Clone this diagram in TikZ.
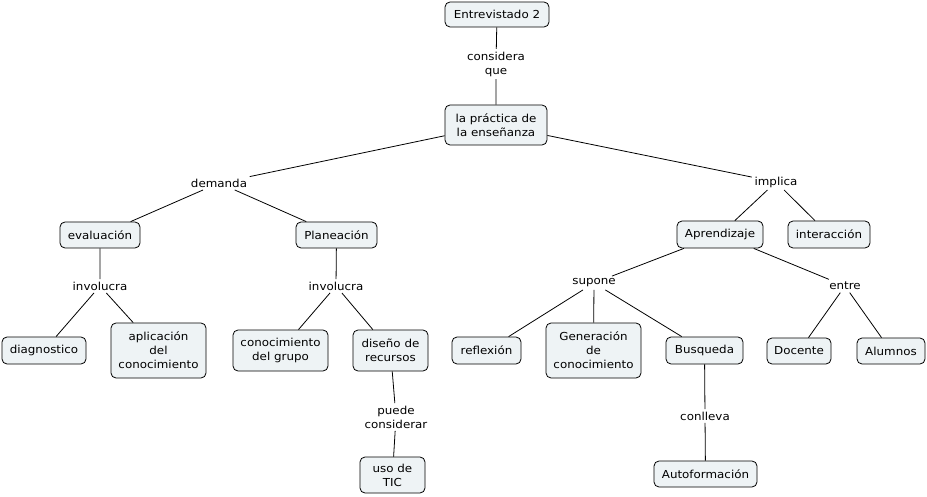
\documentclass[tikz,border=0pt]{standalone}
\usepackage{fontspec}
\setmainfont{DejaVu Sans}[FakeStretch=1.08]
\newcommand\myfs{\fontsize{11}{14}\selectfont}
\definecolor{boxfill}{RGB}{238,243,245}
\begin{document}
\begin{tikzpicture}[x=1pt,y=-1pt,
  box/.style={draw, line width=0.8pt, rounded corners=5pt, fill=boxfill, align=center,
    inner xsep=4pt, inner ysep=3pt, minimum height=26pt, font=\myfs},
  lab/.style={align=center, inner sep=2.5pt, font=\myfs},
  conn/.style={draw, line width=0.8pt}]
\useasboundingbox (0,0) rectangle (927,497);
\fill[white] (0,0) rectangle (927,497);
% concepts
\node[box, minimum width=104pt, minimum height=25pt] (e2) at (497,14.5) {Entrevistado 2};
\node[box, minimum width=102pt, minimum height=40pt] (lp) at (496,125) {la práctica de\\la enseñanza};
\node[box, minimum width=80pt] (eva) at (100,235) {evaluación};
\node[box, minimum width=81pt] (pla) at (336.5,235) {Planeación};
\node[box, minimum width=86pt, minimum height=27pt] (apr) at (720,234.5) {Aprendizaje};
\node[box, minimum width=82pt, minimum height=27pt] (int) at (829,234.5) {interacción};
\node[box, minimum width=84pt, minimum height=27pt] (diag) at (44,350.5) {diagnostico};
\node[box, minimum width=95pt, minimum height=55pt] (apl) at (158.5,350.5) {aplicación\\del\\conocimiento};
\node[box, minimum width=95pt, minimum height=41pt] (cdg) at (280.5,350.5) {conocimiento\\del grupo};
\node[box, minimum width=75pt, minimum height=41pt] (dis) at (390.5,350.5) {diseño de\\recursos};
\node[box, minimum width=69pt, minimum height=27pt] (ref) at (486.5,350.5) {reflexión};
\node[box, minimum width=95pt, minimum height=55pt] (gen) at (593.5,350.5) {Generación\\de\\conocimiento};
\node[box, minimum width=77pt, minimum height=27pt] (bus) at (704.5,350.5) {Busqueda};
\node[box, minimum width=64pt] (doc) at (799,351) {Docente};
\node[box, minimum width=68pt] (alu) at (891,351) {Alumnos};
\node[box, minimum width=65pt, minimum height=36pt] (tic) at (392.5,475) {uso de\\TIC};
\node[box, minimum width=103pt] (auto) at (705.5,474) {Autoformación};
% linking phrases
\node[lab] (cq) at (496,64) {considera\\que};
\node[lab] (dem) at (219,183) {demanda};
\node[lab] (imp) at (776,182) {implica};
\node[lab] (inv1) at (100,286) {involucra};
\node[lab] (inv2) at (336,286) {involucra};
\node[lab] (sup) at (594,283) {supone};
\node[lab] (ent) at (845,286) {entre};
\node[lab] (pc) at (396,417) {puede\\considerar};
\node[lab] (con) at (705,416) {conlleva};
% connectors
\path[conn] (e2) -- (cq) -- (lp);
\path[conn] (lp) -- (dem) -- (eva);
\path[conn] (dem) -- (pla);
\path[conn] (lp) -- (imp) -- (apr);
\path[conn] (imp) -- (int);
\path[conn] (eva) -- (inv1) -- (diag);
\path[conn] (inv1) -- (apl);
\path[conn] (pla) -- (inv2) -- (cdg);
\path[conn] (inv2) -- (dis);
\path[conn] (dis) -- (pc) -- (tic);
\path[conn] (apr) -- (sup) -- (ref);
\path[conn] (sup) -- (gen);
\path[conn] (sup) -- (bus);
\path[conn] (apr) -- (ent) -- (doc);
\path[conn] (ent) -- (alu);
\path[conn] (bus) -- (con) -- (auto);
\end{tikzpicture}
\end{document}
